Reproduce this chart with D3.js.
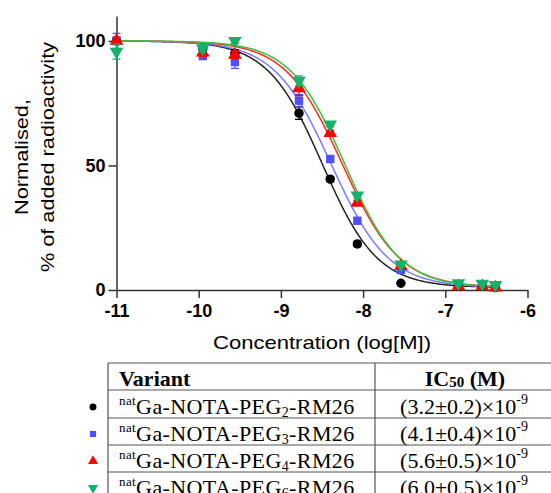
<!DOCTYPE html>
<html>
<head>
<meta charset="utf-8">
<title>Competitive binding</title>
<style>
  body { margin: 0; background: #fff; }
  svg { display: block; }
</style>
</head>
<body>
<main></main>
<script src="https://cdn.jsdelivr.net/npm/d3@7"></script>
<script>
// concentrations, log[M]
const logConc = [-11, -9.95, -9.56, -8.78, -8.40, -8.07, -7.54, -6.84, -6.55, -6.39];

// normalised % of added radioactivity, one array per variant
const peg2 = [100, 97, 95, 71, 44.5, 18.5, 2.7, 1.5, 1.5, 1];
const peg3 = [100, 94, 91.5, 76, 52.6, 27.8, 8, 2, 2, 1.5];
const peg4 = [100, 95.3, 94.4, 81, 63, 35, 9.6, 1.5, 1.5, 1];
const peg6 = [95.7, 97, 100, 84, 66.5, 38, 10.3, 2.7, 2.5, 2];

const peg2Err = [1, 1.5, 1.5, 2.5, 1, 1, 0.5, 0.5, 0.5, 0.5];
const peg3Err = [3, 1.5, 2.5, 2.5, 1, 1, 1, 0.5, 0.5, 0.5];
const peg4Err = [1.5, 1.5, 1.5, 3, 1, 1, 1, 0.5, 0.5, 0.5];
const peg6Err = [3, 1.5, 1, 2, 1, 1, 1, 0.5, 0.5, 0.5];

// table / fit parameters
const pegNumbers = ["2", "3", "4", "6"];
const ic50 = [3.2, 4.1, 5.6, 6.0];      // x 10^-9 M
const ic50Err = [0.2, 0.4, 0.5, 0.5];
const hillSlopes = [1.3, 1.25, 1.25, 1.3];
const fitTop = 100;
const fitBottom = 1;

const yTicks = [0, 50, 100];
const xTicks = [-11, -10, -9, -8, -7, -6];

const markerColors = ["#000000", "#4f4fff", "#ff0000", "#16b06a"];
const lineColors = ["#222222", "#7c7cff", "#ff2a2a", "#36c83a"];
const shapes = ["circle", "square", "up", "down"];

const width = 551, height = 493;

const svg = d3.select("main").append("svg")
  .attr("width", width)
  .attr("height", height)
  .style("background", "#fff");

const x = d3.scaleLinear().domain([-11, -6]).range([116.5, 527.5]);
const y = d3.scaleLinear().domain([0, 110]).range([290, 16]);

const series = [peg2, peg3, peg4, peg6].map((vals, i) => ({
  vals,
  err: [peg2Err, peg3Err, peg4Err, peg6Err][i],
  logIC50: Math.log10(ic50[i] * 1e-9),
  hill: hillSlopes[i],
  marker: markerColors[i],
  line: lineColors[i],
  shape: shapes[i]
}));

function symbolPath(shape, size) {
  if (shape === "circle") return d3.symbol(d3.symbolCircle, size)();
  if (shape === "square") return d3.symbol(d3.symbolSquare, size)();
  return d3.symbol(d3.symbolTriangle, size * 1.15)();
}

// axes
const yAxis = svg.append("g")
  .attr("transform", `translate(${x(-11)},0)`)
  .call(d3.axisLeft(y).tickValues(yTicks).tickSize(8).tickSizeOuter(0).tickPadding(3));

const xAxis = svg.append("g")
  .attr("transform", `translate(0,${y(0)})`)
  .call(d3.axisBottom(x).tickValues(xTicks).tickSize(8).tickSizeOuter(0).tickPadding(6)
    .tickFormat(d => String(d)));

[yAxis, xAxis].forEach(g => {
  g.select(".domain").attr("stroke", "#333").attr("stroke-width", 1.5);
  g.selectAll(".tick line").attr("stroke", "#333").attr("stroke-width", 1.5);
  g.selectAll(".tick text")
    .attr("fill", "#000")
    .style("font", "bold 18px 'Liberation Sans', Arial, sans-serif");
});

// axis titles
svg.append("text")
  .attr("x", 322).attr("y", 349)
  .attr("text-anchor", "middle")
  .attr("textLength", 218).attr("lengthAdjust", "spacingAndGlyphs")
  .style("font", "19px 'Liberation Sans', Arial, sans-serif")
  .text("Concentration (log[M])");

const yTitle = svg.append("g")
  .attr("transform", "translate(0,157) rotate(-90)")
  .style("font", "19px 'Liberation Sans', Arial, sans-serif")
  .attr("text-anchor", "middle");
yTitle.append("text").attr("x", 0).attr("y", 28)
  .attr("textLength", 116).attr("lengthAdjust", "spacingAndGlyphs")
  .text("Normalised,");
yTitle.append("text").attr("x", 0).attr("y", 54)
  .attr("textLength", 230).attr("lengthAdjust", "spacingAndGlyphs")
  .text("% of added radioactivity");

// fitted curves
const curveX = d3.range(-11, -6.39 + 1e-9, 0.02);
const line = d3.line().x(d => x(d[0])).y(d => y(d[1]));

const plot = svg.append("g");

series.forEach(s => {
  const pts = curveX.map(v => [v, fitBottom + (fitTop - fitBottom) / (1 + Math.pow(10, (v - s.logIC50) * s.hill))]);
  plot.append("path")
    .datum(pts)
    .attr("fill", "none")
    .attr("stroke", s.line)
    .attr("stroke-width", 1.5)
    .attr("d", line);
});

// points with error bars
series.forEach(s => {
  const g = plot.append("g");
  s.vals.forEach((v, i) => {
    const cx = x(logConc[i]);
    const e = s.err[i];
    if (e > 0.6) {
      g.append("path")
        .attr("d", `M${cx},${y(v - e)}V${y(v + e)}M${cx - 4},${y(v - e)}H${cx + 4}M${cx - 4},${y(v + e)}H${cx + 4}`)
        .attr("stroke", s.marker)
        .attr("stroke-width", 1.2)
        .attr("fill", "none");
    }
    const rot = s.shape === "down" ? " rotate(180)" : "";
    g.append("path")
      .attr("d", symbolPath(s.shape, 70))
      .attr("transform", `translate(${cx},${y(v)})${rot}`)
      .attr("fill", s.marker);
  });
});

// table
const tbl = svg.append("g");
const tLeft = 108, tDiv = 375, tRight = 560;
const rowTops = [363, 390, 418, 445, 472, 499];

tbl.append("path")
  .attr("d", `M${tLeft},${rowTops[0]}V${height + 5}M${tDiv},${rowTops[0]}V${height + 5}`)
  .attr("stroke", "#555").attr("stroke-width", 1.2);
rowTops.slice(0, 5).forEach(t => {
  tbl.append("line")
    .attr("x1", tLeft).attr("x2", tRight).attr("y1", t).attr("y2", t)
    .attr("stroke", "#555").attr("stroke-width", 1.2);
});

const serif = "'Liberation Serif', 'Times New Roman', serif";

tbl.append("text")
  .attr("x", 119).attr("y", rowTops[1] - 4)
  .style("font", `bold 22px ${serif}`)
  .text("Variant");

const head = tbl.append("text")
  .attr("x", 465).attr("y", rowTops[1] - 4)
  .attr("text-anchor", "middle")
  .style("font", `bold 22px ${serif}`);
head.append("tspan").text("IC");
head.append("tspan").style("font-size", "15px").attr("dy", 1).text("50");
head.append("tspan").attr("dy", -1).text(" (M)");

pegNumbers.forEach((n, i) => {
  const base = rowTops[i + 2] - 4;
  const name = tbl.append("text")
    .attr("x", 119).attr("y", base)
    .style("font", `22px ${serif}`)
    .attr("letter-spacing", 0.4);
  name.append("tspan").style("font-size", "13px").attr("dy", -9).text("nat");
  name.append("tspan").attr("dy", 9).text("Ga-NOTA-PEG");
  name.append("tspan").style("font-size", "14px").attr("dy", 3).text(n);
  name.append("tspan").attr("dy", -3).text("-RM26");

  const val = tbl.append("text")
    .attr("x", 464).attr("y", base)
    .attr("text-anchor", "middle")
    .style("font", `22px ${serif}`);
  val.append("tspan").text(`(${ic50[i].toFixed(1)}\u00b1${ic50Err[i].toFixed(1)})\u00d710`);
  val.append("tspan").style("font-size", "14px").attr("dy", -10).text("-9");

  const s = series[i];
  const rot = s.shape === "down" ? " rotate(180)" : "";
  tbl.append("path")
    .attr("d", symbolPath(s.shape, 38))
    .attr("transform", `translate(93,${base - 7})${rot}`)
    .attr("fill", s.marker);
});
</script>
</body>
</html>
